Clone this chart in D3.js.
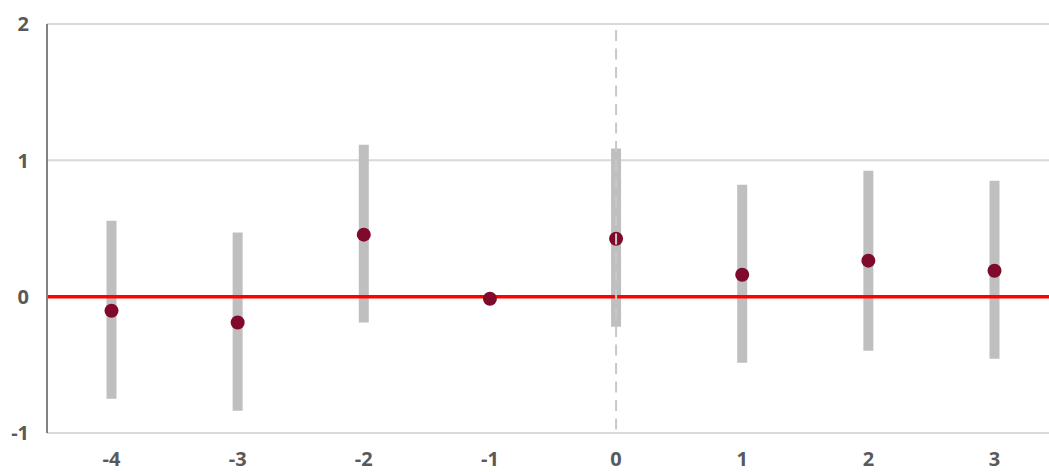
<!DOCTYPE html>
<html>
<head>
<meta charset="utf-8">
<script src="https://cdn.jsdelivr.net/npm/d3@7"></script>
<style>
html,body{margin:0;padding:0;background:#fff;}
svg text{font-family:"Open Sans","Noto Sans",sans-serif;font-weight:bold;fill:#595959;}
</style>
</head>
<body>
<svg id="chart" width="1049" height="472"></svg>
<script>
const categories = [-4, -3, -2, -1, 0, 1, 2, 3];
const estimates = [-0.103, -0.19, 0.455, -0.015, 0.425, 0.161, 0.264, 0.19];
const ciLower = [-0.748, -0.836, -0.19, null, -0.22, -0.484, -0.396, -0.455];
const ciUpper = [0.557, 0.47, 1.115, null, 1.086, 0.82, 0.924, 0.85];
const yTicks = [-1, 0, 1, 2];
const eventTime = 0;

const svg = d3.select("#chart");
const plotLeft = 47, plotRight = 1049, plotTop = 24, plotBottom = 433;

const x = d3.scaleLinear().domain([-4, 3]).range([111.5, 994.5]);
const y = d3.scaleLinear().domain([-1, 2]).range([plotBottom, plotTop]);

// gridlines
svg.append("g").selectAll("line").data(yTicks).join("line")
  .attr("x1", plotLeft).attr("x2", plotRight)
  .attr("y1", d => y(d)).attr("y2", d => y(d))
  .attr("stroke", "#d9d9d9").attr("stroke-width", 2);

// y axis line
svg.append("line").attr("x1", plotLeft).attr("x2", plotLeft)
  .attr("y1", y(2)).attr("y2", y(-1))
  .attr("stroke", "#595959").attr("stroke-width", 1.5);

// y labels
svg.append("g").selectAll("text").data(yTicks).join("text")
  .attr("x", 29).attr("y", d => y(d))
  .attr("dy", "0.36em").attr("text-anchor", "end")
  .attr("font-size", 20).text(d => d);

// x labels
svg.append("g").selectAll("text").data(categories).join("text")
  .attr("x", d => x(d)).attr("y", 466)
  .attr("text-anchor", "middle")
  .attr("font-size", 20).text(d => d);

// error bars
const ciData = categories.map((c, i) => ({c, lo: ciLower[i], hi: ciUpper[i]})).filter(d => d.lo !== null);
svg.append("g").selectAll("line").data(ciData).join("line")
  .attr("x1", d => x(d.c)).attr("x2", d => x(d.c))
  .attr("y1", d => y(d.hi)).attr("y2", d => y(d.lo))
  .attr("stroke", "#bfbfbf").attr("stroke-width", 10);

// zero line
svg.append("line").attr("x1", plotLeft + 1).attr("x2", plotRight)
  .attr("y1", y(0)).attr("y2", y(0))
  .attr("stroke", "#ff0000").attr("stroke-width", 3.5);

// points
svg.append("g").selectAll("circle").data(categories.map((c, i) => ({c, v: estimates[i]}))).join("circle")
  .attr("cx", d => x(d.c)).attr("cy", d => y(d.v)).attr("r", 7)
  .attr("fill", "#800a2c");

// event dashed line
svg.append("line").attr("x1", x(eventTime)).attr("x2", x(eventTime))
  .attr("y1", y(2) + 6).attr("y2", y(-1))
  .attr("stroke", "#c8c8c8").attr("stroke-width", 2)
  .attr("stroke-dasharray", "11,7.5");
</script>
</body>
</html>
